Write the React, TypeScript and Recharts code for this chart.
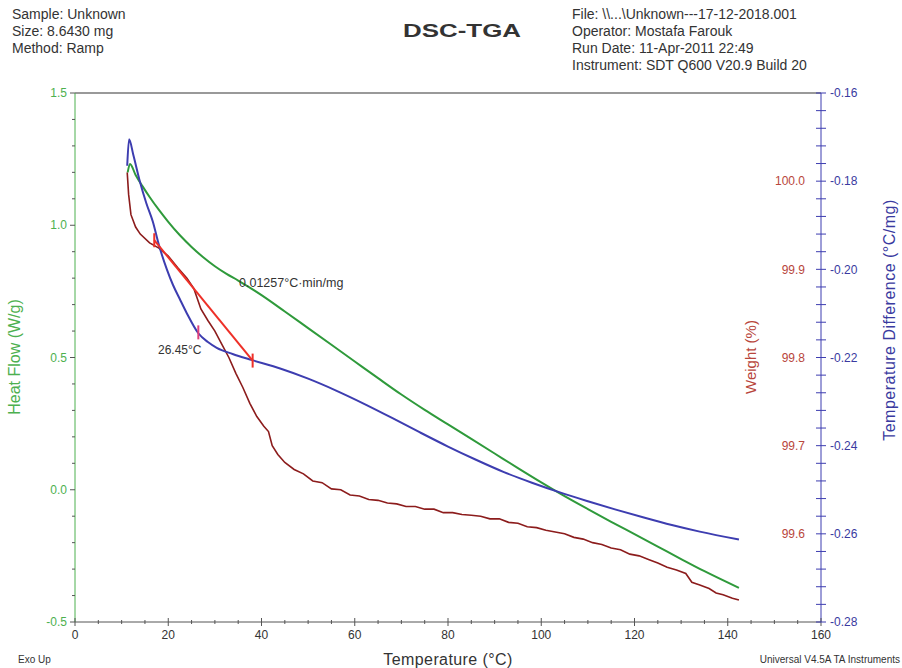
import { ComposedChart, Line, XAxis, YAxis, ReferenceLine } from "recharts";

// Heat flow (W/g), left axis
const heatFlowTemps = [11.3, 11.8, 13, 14.5, 16, 18, 20, 22.5, 25, 27.5, 30, 32.5, 35, 40, 45, 50, 55, 60, 65, 70, 75, 80, 85, 90, 95, 100, 105, 110, 115, 120, 125, 130, 135, 142.4];
const heatFlowValues = [1.2, 1.232, 1.19, 1.147, 1.107, 1.058, 1.013, 0.962, 0.918, 0.879, 0.845, 0.816, 0.791, 0.736, 0.674, 0.611, 0.548, 0.485, 0.422, 0.36, 0.302, 0.247, 0.192, 0.137, 0.082, 0.028, -0.024, -0.073, -0.121, -0.168, -0.215, -0.262, -0.308, -0.371];

// Temperature difference (°C/mg), right axis
const tempDiffTemps = [11.2, 11.6, 12.5, 13.9, 15.3, 16.7, 18, 19.7, 21, 22.5, 24, 26.45, 28.5, 30.4, 33.8, 38, 44, 50, 56, 62, 68, 74, 80, 86, 92, 98, 104, 110, 116, 122, 128, 134, 142.4];
const tempDiffValues = [-0.1765, -0.1705, -0.174, -0.18, -0.185, -0.1892, -0.1945, -0.2, -0.2035, -0.2068, -0.21, -0.2145, -0.2165, -0.2178, -0.2192, -0.2206, -0.2225, -0.2248, -0.2275, -0.2305, -0.2337, -0.237, -0.2402, -0.2432, -0.246, -0.2484, -0.2506, -0.2526, -0.2545, -0.2563, -0.258, -0.2595, -0.2613];

// Weight (%), inner right axis
const weightTemps = [11.2, 11.5, 12, 13, 14, 16, 18, 20, 22, 24, 25.5, 27, 28.5, 30, 31.5, 33, 34.5, 36, 37.5, 39, 40.5, 41.5, 42.3, 43.5, 45, 47, 49, 51, 53, 55, 57, 59, 61, 63, 65, 67, 69, 71, 73, 75, 77, 79, 81, 83, 85, 87, 89, 91, 93, 95, 97, 99, 101, 103, 105, 107, 109, 111, 113, 115, 117, 119, 121, 123, 125, 127, 129, 131, 132.3, 134, 136, 137.5, 139, 141, 142.4];
const weightValues = [100.01, 99.985, 99.962, 99.948, 99.94, 99.93, 99.924, 99.915, 99.902, 99.89, 99.878, 99.855, 99.842, 99.83, 99.815, 99.8, 99.782, 99.766, 99.748, 99.733, 99.722, 99.716, 99.7, 99.69, 99.681, 99.673, 99.668, 99.66, 99.658, 99.651, 99.65, 99.644, 99.643, 99.639, 99.638, 99.635, 99.634, 99.631, 99.631, 99.628, 99.628, 99.624, 99.624, 99.622, 99.621, 99.62, 99.617, 99.617, 99.613, 99.612, 99.608, 99.607, 99.604, 99.602, 99.6, 99.596, 99.594, 99.59, 99.588, 99.584, 99.582, 99.577, 99.575, 99.571, 99.567, 99.562, 99.559, 99.555, 99.545, 99.542, 99.538, 99.533, 99.531, 99.527, 99.525];

// Onset tangent and marker (on temperature difference axis)
const tangentTemps = [17, 38.1];
const tangentValues = [-0.1934, -0.2207];
const markerTemps = [26.45];
const markerValues = [-0.2143];

const xLabels = [0, 20, 40, 60, 80, 100, 120, 140, 160];
const hfLabels = [-0.5, 0, 0.5, 1.0, 1.5];
const tdLabels = [-0.28, -0.26, -0.24, -0.22, -0.2, -0.18, -0.16];
const weightLabels = [99.6, 99.7, 99.8, 99.9, 100.0];

const toPoints = (ts: number[], vs: number[]) => ts.map((t, i) => ({ t, v: vs[i] }));
const steps = (from: number, count: number, step: number) =>
  Array.from({ length: count }, (_, i) => Math.round((from + i * step) * 10000) / 10000);

const FONT = "'Liberation Sans', Arial, sans-serif";
const GREEN_LINE = "#2f9a3b";
const GREEN_TEXT = "#4db04f";
const BLUE = "#3d3db0";
const BLUE_TEXT = "#3a3aa0";
const DARK_RED = "#8c1c1c";
const RED_TEXT = "#b8463c";
const TANGENT = "#ee3028";
const GRAY = "#555";

const isLabel = (list: number[], v: number) => list.some((l) => Math.abs(l - v) < 1e-6);

const XTick = (props: any) => {
  const { x, y, payload } = props;
  const major = isLabel(xLabels, payload.value);
  return (
    <g>
      <line x1={x} x2={x} y1={major ? y - 4 : y - 2} y2={major ? y + 4 : y + 2} stroke={GRAY} />
      {major && (
        <text x={x} y={y + 17} textAnchor="middle" fontSize={12} fill="#333">
          {payload.value}
        </text>
      )}
    </g>
  );
};

const HfTick = (props: any) => {
  const { x, y, payload } = props;
  const major = isLabel(hfLabels, payload.value);
  return (
    <g>
      <line x1={x - (major ? 5 : 3)} x2={x} y1={y} y2={y} stroke={GRAY} />
      {major && (
        <text x={x - 8} y={y} dy="0.35em" textAnchor="end" fontSize={12} fill={GREEN_TEXT}>
          {payload.value.toFixed(1)}
        </text>
      )}
    </g>
  );
};

const TdTick = (props: any) => {
  const { x, y, payload } = props;
  const major = isLabel(tdLabels, payload.value);
  return (
    <g>
      <line x1={x - 5} x2={x + 5} y1={y} y2={y} stroke={BLUE} />
      {major && (
        <text x={x + 9} y={y} dy="0.35em" textAnchor="start" fontSize={12} fill={BLUE_TEXT}>
          {payload.value.toFixed(2)}
        </text>
      )}
    </g>
  );
};

const WeightTick = (props: any) => {
  const { x, y, payload } = props;
  return (
    <text x={x - 16} y={y} dy="0.35em" textAnchor="end" fontSize={12} fill={RED_TEXT}>
      {payload.value.toFixed(1)}
    </text>
  );
};

const VTick = (color: string, half: number) => (props: any) => {
  const { cx, cy, index } = props;
  return <line key={`vt-${index}`} x1={cx} x2={cx} y1={cy - half} y2={cy + half} stroke={color} strokeWidth={2} />;
};

const App = () => {
  return (
    <div style={{ position: "absolute", left: 0, top: 0, width: 902, height: 668, background: "#fff", fontFamily: FONT }}>
      <ComposedChart
        width={902}
        height={668}
        margin={{ top: 93, right: 0, bottom: 16, left: 0 }}
        style={{ fontFamily: FONT }}
      >
        <XAxis
          type="number"
          dataKey="t"
          domain={[0, 160]}
          ticks={steps(0, 33, 5)}
          interval={0}
          height={30}
          tickSize={0}
          tickMargin={0}
          tick={<XTick />}
          stroke={GRAY}
          allowDataOverflow
        />
        <YAxis
          yAxisId="hf"
          orientation="left"
          domain={[-0.5, 1.5]}
          ticks={steps(-0.5, 21, 0.1)}
          interval={0}
          width={75}
          tickSize={0}
          tickMargin={0}
          tick={<HfTick />}
          stroke={GREEN_TEXT}
          allowDataOverflow
        />
        <YAxis
          yAxisId="w"
          orientation="right"
          mirror
          domain={[99.5, 100.1]}
          ticks={weightLabels}
          interval={0}
          width={60}
          tickSize={0}
          tickMargin={0}
          axisLine={false}
          tick={<WeightTick />}
          allowDataOverflow
        />
        <YAxis
          yAxisId="td"
          orientation="right"
          domain={[-0.28, -0.16]}
          ticks={steps(-0.28, 31, 0.004)}
          interval={0}
          width={81}
          tickSize={0}
          tickMargin={0}
          tick={<TdTick />}
          stroke={BLUE}
          allowDataOverflow
        />
        <ReferenceLine yAxisId="hf" y={1.5} stroke="#777" strokeWidth={1.5} />
        <Line
          yAxisId="w"
          data={toPoints(weightTemps, weightValues)}
          dataKey="v"
          type="linear"
          stroke={DARK_RED}
          strokeWidth={1.6}
          dot={false}
          isAnimationActive={false}
        />
        <Line
          yAxisId="hf"
          data={toPoints(heatFlowTemps, heatFlowValues)}
          dataKey="v"
          type="monotone"
          stroke={GREEN_LINE}
          strokeWidth={2}
          dot={false}
          isAnimationActive={false}
        />
        <Line
          yAxisId="td"
          data={toPoints(tempDiffTemps, tempDiffValues)}
          dataKey="v"
          type="monotone"
          stroke={BLUE}
          strokeWidth={2}
          dot={false}
          isAnimationActive={false}
        />
        <Line
          yAxisId="td"
          data={toPoints(tangentTemps, tangentValues)}
          dataKey="v"
          type="linear"
          stroke={TANGENT}
          strokeWidth={2}
          dot={VTick(TANGENT, 7)}
          isAnimationActive={false}
        />
        <Line
          yAxisId="td"
          data={toPoints(markerTemps, markerValues)}
          dataKey="v"
          stroke="#e0407a"
          dot={VTick("#e0407a", 7)}
          isAnimationActive={false}
        />
      </ComposedChart>
      <svg width={902} height={668} style={{ position: "absolute", left: 0, top: 0, pointerEvents: "none", fontFamily: FONT }}>
        <g fontSize={14} fill="#333">
          <text x={12} y={19}>Sample: Unknown</text>
          <text x={12} y={36}>Size:  8.6430 mg</text>
          <text x={12} y={53}>Method: Ramp</text>
          <text x={572} y={19}>File: \\...\Unknown---17-12-2018.001</text>
          <text x={572} y={36}>Operator: Mostafa Farouk</text>
          <text x={572} y={53}>Run Date: 11-Apr-2011 22:49</text>
          <text x={572} y={70}>Instrument: SDT Q600 V20.9 Build 20</text>
        </g>
        <text x={403} y={37} textLength={118} lengthAdjust="spacingAndGlyphs" fontSize={19} fontWeight="bold" fill="#333">DSC-TGA</text>
        <text x={239} y={287} fontSize={12.5} fill="#333">0.01257°C·min/mg</text>
        <text x={158} y={354} fontSize={12} fill="#333">26.45°C</text>
        <text x={20} y={357} transform="rotate(-90 20 357)" textAnchor="middle" fontSize={16} fill={GREEN_TEXT}>Heat Flow (W/g)</text>
        <text x={756} y={357} transform="rotate(-90 756 357)" textAnchor="middle" fontSize={15} fill={RED_TEXT}>Weight (%)</text>
        <text x={895} y={320} transform="rotate(-90 895 320)" textAnchor="middle" fontSize={16} letterSpacing={0.5} fill={BLUE_TEXT}>Temperature Difference (°C/mg)</text>
        <text x={448} y={665} textAnchor="middle" fontSize={16} letterSpacing={0.4} fill="#333">Temperature (°C)</text>
        <text x={18} y={663} fontSize={10} fill="#333">Exo Up</text>
        <text x={900} y={663} textAnchor="end" fontSize={10} fill="#333">Universal V4.5A TA Instruments</text>
      </svg>
    </div>
  );
};

export default App;
